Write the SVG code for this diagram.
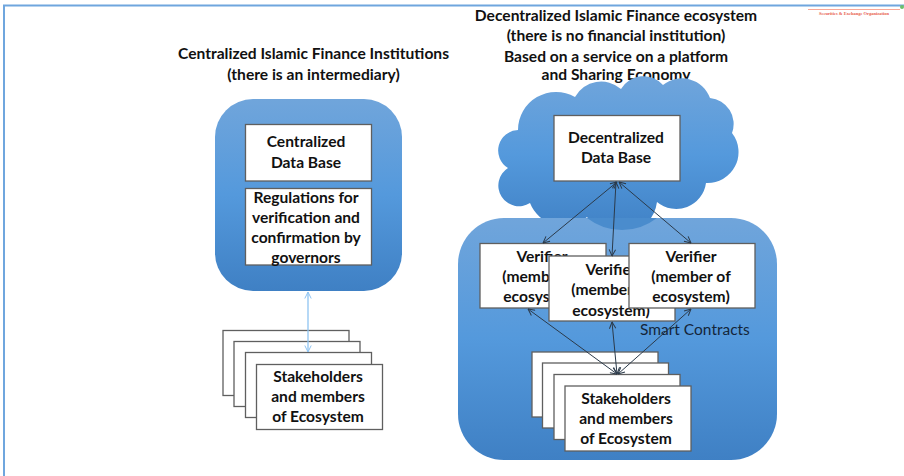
<svg xmlns="http://www.w3.org/2000/svg" width="904" height="476" viewBox="0 0 904 476">
<style>
.t{font-family:Lato,"Liberation Sans",sans-serif;font-weight:700;font-size:15.600px;fill:#111;text-anchor:middle}
.b{fill:#fff;stroke:#5f5f5f;stroke-width:1.3}
.c{fill:none;stroke:#2b3a4a;stroke-width:1}
.l{fill:none;stroke:#8fc4f2;stroke-width:1.3}
</style>
<defs>
<linearGradient id="g" x1="0" y1="0" x2="0" y2="1">
<stop offset="0" stop-color="#70a5db"/><stop offset=".5" stop-color="#5499dc"/><stop offset="1" stop-color="#3f80c4"/>
</linearGradient>
<marker id="a" viewBox="0 0 8 8" refX="7.5" refY="4" markerWidth="8" markerHeight="8" markerUnits="userSpaceOnUse" orient="auto-start-reverse">
<path d="M1 .8L7.5 4L1 7.2" fill="none" stroke="#2b3a4a" stroke-width="1"/>
</marker>
<marker id="al" viewBox="0 0 8 8" refX="7.5" refY="4" markerWidth="8" markerHeight="8" markerUnits="userSpaceOnUse" orient="auto-start-reverse">
<path d="M1 .8L7.5 4L1 7.2" fill="none" stroke="#8fc4f2" stroke-width="1"/>
</marker>
</defs>
<rect width="904" height="476" fill="#fff"/>
<g id="frame">
<path d="M4 476V5.500H904" fill="none" stroke="#6fa6de" stroke-width="2"/>
</g>
<g id="logo">
<path d="M808 9.500H900" stroke="#f8a898" stroke-width="1" fill="none"/>
<circle cx="902" cy="7" r="2" fill="#6cbf6c"/>
<text x="854" y="14.500" font-family="Liberation Serif,serif" font-size="4.500" font-weight="700" fill="#e8604c" text-anchor="middle">Securities &amp; Exchange Organization</text>
</g>
<g id="title-left">
<text class="t" x="313.500" y="58.500">Centralized Islamic Finance Institutions</text>
<text class="t" x="313.500" y="79.500">(there is an intermediary)</text>
</g>
<g id="title-right">
<text class="t" x="616" y="21">Decentralized Islamic Finance ecosystem</text>
<text class="t" x="616" y="41">(there is no financial institution)</text>
<text class="t" x="616" y="62">Based on a service on a platform</text>
<text class="t" x="616" y="80">and Sharing Economy</text>
</g>
<g id="centralized-panel">
<rect x="215" y="99" width="187" height="192" rx="38" fill="url(#g)"/>
</g>
<g id="centralized-db">
<rect class="b" x="245.500" y="124.500" width="126" height="56.500"/>
<text class="t" x="306" y="147">Centralized</text>
<text class="t" x="306" y="168">Data Base</text>
</g>
<g id="regulations">
<rect class="b" x="245.500" y="188.500" width="126" height="76.500"/>
<text class="t" x="306" y="203">Regulations for</text>
<text class="t" x="306" y="223">verification and</text>
<text class="t" x="306" y="243">confirmation by</text>
<text class="t" x="306" y="263">governors</text>
</g>
<g id="stakeholders-left">
<rect class="b" x="223" y="330.500" width="126" height="65"/>
<rect class="b" x="234" y="341.500" width="126" height="65"/>
<rect class="b" x="245.500" y="352.500" width="126" height="65"/>
<rect class="b" x="256.500" y="364.500" width="126" height="65"/>
<text class="t" x="318" y="382">Stakeholders</text>
<text class="t" x="318" y="402">and members</text>
<text class="t" x="318" y="422">of Ecosystem</text>
</g>
<g id="cloud">
<path fill="url(#g)" d="M518 130A38 38 0 0 1 575 97A30 30 0 0 1 621 89A26 26 0 0 1 663 85A30 30 0 0 1 710 98A26 26 0 0 1 732 133A31 31 0 0 1 706 183A30 30 0 0 1 657 202A38 38 0 0 1 587 217A36 36 0 0 1 530 203A20 20 0 0 1 508 168A20.500 20.500 0 0 1 518 130Z"/>
</g>
<g id="decentralized-panel">
<rect x="458" y="218" width="319" height="242" rx="46" fill="url(#g)"/>
<path d="M587 218A57 57 0 0 0 657 218Z" fill="#4a8ccd"/>
</g>
<g id="decentralized-db">
<rect class="b" x="554" y="115.500" width="126" height="65.500"/>
<text class="t" x="616" y="143">Decentralized</text>
<text class="t" x="616" y="163">Data Base</text>
</g>
<g id="verifier-1">
<rect class="b" x="480" y="243.500" width="126" height="64.500"/>
<text class="t" x="542" y="262">Verifier</text>
<text class="t" x="542" y="282">(member of</text>
<text class="t" x="542" y="302">ecosystem)</text>
</g>
<g id="verifier-2">
<rect class="b" x="549" y="256" width="126" height="65"/>
<text class="t" x="611" y="275">Verifier</text>
<text class="t" x="611" y="295">(member of</text>
<text class="t" x="611" y="316">ecosystem)</text>
</g>
<g id="verifier-3">
<rect class="b" x="629" y="243.500" width="126" height="64.500"/>
<text class="t" x="691" y="262">Verifier</text>
<text class="t" x="691" y="282">(member of</text>
<text class="t" x="691" y="302">ecosystem)</text>
</g>
<g id="stakeholders-right">
<rect class="b" x="532" y="352" width="126" height="65"/>
<rect class="b" x="542.500" y="363" width="126" height="65"/>
<rect class="b" x="554" y="374.500" width="126" height="65"/>
<rect class="b" x="565" y="386" width="126" height="65"/>
<text class="t" x="626" y="404">Stakeholders</text>
<text class="t" x="626" y="424">and members</text>
<text class="t" x="626" y="444">of Ecosystem</text>
</g>
<text id="smart-contracts" x="640" y="335" font-family="Lato,Liberation Sans,sans-serif" font-size="15.500" fill="#14263a">Smart Contracts</text>
<g id="connectors">
<path class="l" d="M308 292V352" marker-start="url(#al)" marker-end="url(#al)"/>
<path class="c" d="M617 182L543 243" marker-start="url(#a)" marker-end="url(#a)"/>
<path class="c" d="M616 182L612 256" marker-start="url(#a)" marker-end="url(#a)"/>
<path class="c" d="M619 182L691 243" marker-start="url(#a)" marker-end="url(#a)"/>
<path class="c" d="M528 309L617 374" marker-start="url(#a)" marker-end="url(#a)"/>
<path class="c" d="M612 322L617 374" marker-start="url(#a)" marker-end="url(#a)"/>
<path class="c" d="M691 309L618 374" marker-start="url(#a)" marker-end="url(#a)"/>
</g>
</svg>
